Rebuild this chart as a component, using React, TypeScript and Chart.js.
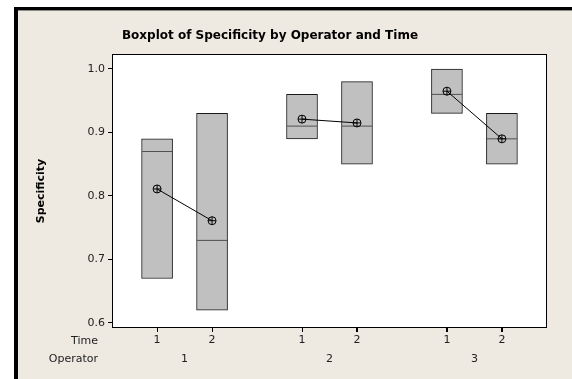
import React, { useEffect, useRef } from "react";
import { Chart, registerables } from "chart.js";
Chart.register(...registerables);

const titleText = "Boxplot of Specificity by Operator and Time";
const yLabel = "Specificity";
const operators = ["1", "2", "3"];
const times = ["1", "2"];
// order: (op1,t1),(op1,t2),(op2,t1),(op2,t2),(op3,t1),(op3,t2)
const q1 = [0.67, 0.62, 0.89, 0.85, 0.93, 0.85];
const q3 = [0.89, 0.93, 0.96, 0.98, 1.0, 0.93];
const medians = [0.87, 0.73, 0.91, 0.91, 0.96, 0.89];
const means = [0.811, 0.761, 0.921, 0.915, 0.965, 0.89];
const yTicks = [0.6, 0.7, 0.8, 0.9, 1.0];

const GROUP = 2.6364;
const xPos = (i: number) => Math.floor(i / 2) * GROUP + (i % 2);
const positions = q1.map((_, i) => xPos(i));

const FONT = "'DejaVu Sans', sans-serif";

const framePlugin = {
  id: "frame",
  beforeDraw(chart: any) {
    const { ctx, chartArea: a } = chart;
    ctx.save();
    ctx.fillStyle = "#ffffff";
    ctx.fillRect(a.left, a.top, a.right - a.left, a.bottom - a.top);
    ctx.restore();
  },
  afterDraw(chart: any) {
    const { ctx, chartArea: a, scales } = chart;
    ctx.save();
    ctx.strokeStyle = "#000";
    ctx.lineWidth = 1;
    ctx.strokeRect(Math.round(a.left) + 0.5, Math.round(a.top) + 0.5, Math.round(a.right - a.left) - 1, Math.round(a.bottom - a.top) - 1);
    // x tick marks
    ctx.beginPath();
    positions.forEach((v) => {
      const px = Math.round(scales.x.getPixelForValue(v)) + 0.5;
      ctx.moveTo(px, Math.round(a.bottom));
      ctx.lineTo(px, Math.round(a.bottom) + 4);
    });
    ctx.stroke();
    ctx.fillStyle = "#000";
    ctx.font = `bold 12px ${FONT}`;
    ctx.textAlign = "center";
    ctx.textBaseline = "middle";
    ctx.fillText(titleText, 270, 36);
    ctx.save();
    ctx.translate(41, (a.top + a.bottom) / 2);
    ctx.rotate(-Math.PI / 2);
    ctx.font = `bold 11px ${FONT}`;
    ctx.fillText(yLabel, 0, 0);
    ctx.restore();
    ctx.font = `11px ${FONT}`;
    ctx.fillStyle = "#222";
    ctx.textAlign = "right";
    ctx.fillText("Time", 98, 341);
    ctx.fillText("Operator", 98, 359);
    ctx.textAlign = "center";
    operators.forEach((op, k) => {
      const x = scales.x.getPixelForValue(k * GROUP + 0.5);
      ctx.fillText(op, x, 359);
    });
    ctx.restore();
  },
};

export default function App() {
  const ref = useRef<HTMLCanvasElement>(null);
  useEffect(() => {
    if (!ref.current) return;
    const meanLines = operators.map((_, k) => ({
      type: "line" as const,
      data: [0, 1].map((t) => ({ x: positions[k * 2 + t], y: means[k * 2 + t] })),
      borderColor: "#000",
      borderWidth: 1,
      pointStyle: "circle",
      pointRadius: 4,
      pointBorderWidth: 1,
      pointBackgroundColor: "rgba(0,0,0,0)",
      pointBorderColor: "#000",
      order: 1,
    }));
    const chart = new Chart(ref.current, {
      type: "bar",
      data: {
        datasets: [
          {
            type: "bar",
            data: positions.map((x, i) => ({ x, y: [q1[i], q3[i]] })) as any,
            backgroundColor: "#C0C0C0",
            borderColor: "#1a1a1a",
            borderWidth: 1,
            borderSkipped: false,
            barThickness: 31,
            order: 4,
          } as any,
          {
            type: "scatter",
            data: positions.map((x, i) => ({ x, y: medians[i] })),
            pointStyle: "line",
            pointRadius: 15,
            borderColor: "#505050",
            borderWidth: 1,
            order: 3,
          } as any,
          {
            type: "scatter",
            data: positions.map((x, i) => ({ x, y: means[i] })),
            pointStyle: "cross",
            pointRadius: 4,
            borderColor: "#000",
            borderWidth: 1,
            order: 2,
          } as any,
          ...(meanLines as any[]),
        ],
      },
      options: {
        animation: false,
        responsive: false,
        events: [],
        layout: { padding: { left: 0, top: 54, right: 25, bottom: 0 } },
        plugins: { legend: { display: false }, tooltip: { enabled: false }, title: { display: false } },
        scales: {
          x: {
            type: "linear",
            min: -0.82,
            max: 2 * GROUP + 1 + 0.82,
            offset: false,
            afterFit: (s: any) => { s.height = 51; },
            afterBuildTicks: (s: any) => { s.ticks = positions.map((v) => ({ value: v })); },
            border: { display: false },
            grid: { offset: false, drawOnChartArea: false, drawTicks: true, tickLength: 4, color: "#000" },
            ticks: {
              autoSkip: false,
              maxRotation: 0,
              padding: 2,
              color: "#222",
              font: { family: FONT, size: 11 },
              callback: (_v: any, i: number) => times[i % 2],
            },
          },
          y: {
            type: "linear",
            min: 0.592,
            max: 1.0236,
            afterFit: (s: any) => { s.width = 112; },
            afterBuildTicks: (s: any) => { s.ticks = yTicks.map((v) => ({ value: v })); },
            border: { display: false },
            grid: { drawOnChartArea: false, drawTicks: true, tickLength: 4, color: "#000" },
            ticks: {
              padding: 3,
              color: "#222",
              font: { family: FONT, size: 11 },
              callback: (v: any) => Number(v).toFixed(1),
            },
          },
        },
      } as any,
      plugins: [framePlugin],
    });
    return () => chart.destroy();
  }, []);
  return (
    <div style={{ position: "fixed", left: 0, top: 0, width: 572, height: 379, background: "#fff" }}>
      <div
        style={{
          position: "absolute",
          left: 14,
          top: 7,
          right: 0,
          bottom: 0,
          background: "#EEEAE1",
          borderLeft: "4px solid #000",
          borderTop: "3px solid #000",
          boxShadow: "inset 0 1px 0 #8a8a8a",
        }}
      />
      <canvas ref={ref} width={572} height={379} style={{ position: "absolute", left: 0, top: 0 }} />
    </div>
  );
}
